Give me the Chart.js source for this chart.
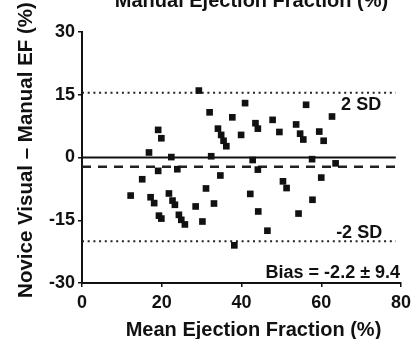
<!DOCTYPE html>
<html>
<head>
<meta charset="utf-8">
<script src="https://cdn.jsdelivr.net/npm/chart.js@4.4.1/dist/chart.umd.min.js"></script>
<style>
  html, body { margin: 0; padding: 0; background: #fff; }
  #wrap { width: 413px; height: 339px; }
</style>
</head>
<body>
<div id="wrap"><canvas id="c" width="413" height="339"></canvas></div>
<script>
// Bland–Altman plot: novice visual EF vs manual EF
const meanEF = [
  29.3, 32.0, 19.1, 19.9, 16.8, 22.4, 32.4, 40.9, 37.7, 34.1,
  34.9, 35.5, 36.2, 39.9, 43.5, 44.1, 47.8, 49.5, 56.2, 53.7,
  54.7, 55.5, 59.5, 60.6, 62.7, 42.8, 57.7, 63.6, 19.1, 23.9,
  15.1, 34.7, 12.2, 17.2, 18.1, 19.3, 19.9, 21.8, 22.7, 23.3,
  24.3, 24.9, 25.8, 28.5, 30.2, 31.1, 33.1, 44.1, 42.2, 44.2,
  46.5, 38.2, 50.4, 51.3, 54.3, 57.8, 60.0
];
const difference = [
  16.0, 10.8, 6.6, 4.6, 1.2, 0.1, 0.3, 13.0, 9.6, 6.9,
  5.4, 4.0, 2.7, 5.4, 8.2, 6.9, 9.0, 6.1, 12.6, 7.9,
  5.7, 4.3, 6.2, 4.0, 9.8, -0.6, -0.4, -1.4, -3.2, -2.8,
  -5.2, -4.3, -9.1, -9.5, -10.9, -13.9, -14.6, -8.6, -10.3, -11.3,
  -13.7, -14.9, -16.0, -11.7, -15.3, -7.4, -11.0, -2.9, -8.7, -12.9,
  -17.5, -21.0, -5.7, -7.3, -13.4, -10.1, -4.8
];

// reference lines
const lineX = [0, 78.7];
const zeroLine = [0, 0];
const biasLine = [-2.2, -2.2];
const upperSD = [15.5, 15.5];
const lowerSD = [-20.0, -20.0];

const xTicks = [0, 20, 40, 60, 80];
const yTicks = [-30, -15, 0, 15, 30];

const xTitle = 'Mean Ejection Fraction (%)';
const yTitle = 'Novice Visual \u2013 Manual EF (%)';
const panelHeading = 'Manual Ejection Fraction (%)';

const FONT = '"Liberation Sans", Arial, Helvetica, sans-serif';

const pts = meanEF.map((x, i) => ({ x, y: difference[i] }));
const seg = ys => lineX.map((x, i) => ({ x, y: ys[i] }));

const textPlugin = {
  id: 'annotText',
  afterDatasetsDraw(chart) {
    const { ctx, scales: { x, y } } = chart;
    ctx.save();
    ctx.fillStyle = '#111';
    ctx.font = 'bold 18px ' + FONT;
    ctx.textAlign = 'center';
    ctx.textBaseline = 'middle';
    ctx.fillText('2 SD', x.getPixelForValue(70.0), y.getPixelForValue(12.5));
    ctx.fillText('-2 SD', x.getPixelForValue(69.5), y.getPixelForValue(-18.1));
    ctx.fillText('Bias = -2.2 \u00b1 9.4', x.getPixelForValue(62.9), y.getPixelForValue(-27.6));

    // axis titles
    ctx.font = 'bold 20px ' + FONT;
    ctx.fillText(xTitle, 253.5, 330);
    ctx.save();
    ctx.translate(26, 150);
    ctx.rotate(-Math.PI / 2);
    ctx.font = 'bold 20.5px ' + FONT;
    ctx.fillText(yTitle, 0, 0);
    ctx.restore();

    // heading of the panel, partly above the canvas edge
    ctx.font = 'bold 20px ' + FONT;
    ctx.textBaseline = 'alphabetic';
    ctx.fillText(panelHeading, 251.5, 7);
    ctx.restore();
  }
};

new Chart(document.getElementById('c'), {
  type: 'scatter',
  data: {
    datasets: [
      {
        data: pts,
        pointStyle: 'rect',
        radius: 4.7,
        backgroundColor: '#111',
        borderColor: '#111',
        borderWidth: 0
      },
      {
        type: 'line', data: seg(zeroLine), borderColor: '#111', borderWidth: 2.2,
        pointRadius: 0, fill: false
      },
      {
        type: 'line', data: seg(biasLine), borderColor: '#222', borderWidth: 2.4,
        borderDash: [9, 7], pointRadius: 0, fill: false
      },
      {
        type: 'line', data: seg(upperSD), borderColor: '#222', borderWidth: 2,
        borderDash: [2, 3.7], pointRadius: 0, fill: false
      },
      {
        type: 'line', data: seg(lowerSD), borderColor: '#222', borderWidth: 2,
        borderDash: [2, 3.7], pointRadius: 0, fill: false
      }
    ]
  },
  options: {
    responsive: false,
    animation: false,
    devicePixelRatio: 1,
    layout: { padding: { top: 32, right: 12, left: 0, bottom: 0 } },
    plugins: { legend: { display: false }, tooltip: { enabled: false } },
    scales: {
      x: {
        type: 'linear', min: 0, max: 80,
        afterBuildTicks: s => { s.ticks = xTicks.map(v => ({ value: v })); },
        afterFit: s => { s.height = 56; s.paddingLeft = 0; s.paddingRight = 0; },
        grid: { drawOnChartArea: false, drawTicks: true, tickLength: 4, color: '#111', lineWidth: 1.5 },
        border: { display: true, color: '#111', width: 2 },
        ticks: { color: '#111', font: { family: FONT, size: 18, weight: 'bold' }, padding: 5, maxRotation: 0 }
      },
      y: {
        type: 'linear', min: -30, max: 30,
        afterBuildTicks: s => { s.ticks = yTicks.map(v => ({ value: v })); },
        afterFit: s => { s.width = 82; s.paddingTop = 0; s.paddingBottom = 0; },
        grid: { drawOnChartArea: false, drawTicks: true, tickLength: 4, color: '#111', lineWidth: 1.5 },
        border: { display: true, color: '#111', width: 2 },
        ticks: { color: '#111', font: { family: FONT, size: 18, weight: 'bold' }, padding: 3 }
      }
    }
  },
  plugins: [textPlugin]
});
</script>
</body>
</html>
